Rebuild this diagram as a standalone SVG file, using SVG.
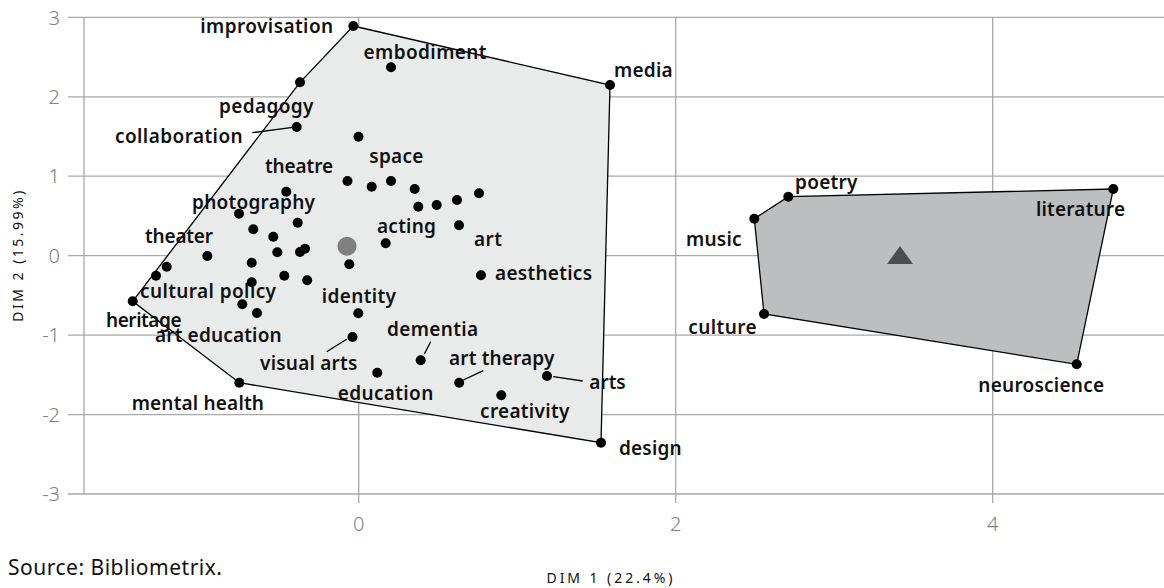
<svg xmlns="http://www.w3.org/2000/svg" width="1164" height="588" viewBox="0 0 1164 588">
<style>
.grid{stroke:#a8a8a8;stroke-width:1.3;fill:none}
.tick{font-family:"Noto Sans","Liberation Sans",sans-serif;font-size:20px;fill:#808080;font-weight:300}
.lbl{font-family:"Noto Sans","Liberation Sans",sans-serif;font-size:19px;font-weight:600;fill:#111;text-anchor:middle}
.pt{fill:#000}
.hull1{fill:#e9eaea;stroke:#000;stroke-width:1.3}
.hull2{fill:#bdbebf;stroke:#000;stroke-width:1.3}
.lead{stroke:#000;stroke-width:1.3;fill:none}
.axt{font-family:"Noto Sans","Liberation Sans",sans-serif;font-size:14px;fill:#111;letter-spacing:1px}
.src{font-family:"Noto Sans","Liberation Sans",sans-serif;font-size:21px;fill:#111}
</style>
<rect width="1164" height="588" fill="#fff"/>
<g id="grid">
<path class="grid" d="M68 17.3H1164M68 96.8H1164M68 176.2H1164M68 255.7H1164M68 335.1H1164M68 414.6H1164M68 494H1164"/>
<path class="grid" d="M84 17.3V494M358.7 17.3V503M675.7 17.3V503M992.7 17.3V503"/>
</g>
<g id="axis-labels">
<text class="tick" x="60" y="24.5" text-anchor="end">3</text>
<text class="tick" x="60" y="104" text-anchor="end">2</text>
<text class="tick" x="60" y="183.4" text-anchor="end">1</text>
<text class="tick" x="60" y="262.9" text-anchor="end">0</text>
<text class="tick" x="60" y="342.3" text-anchor="end">-1</text>
<text class="tick" x="60" y="421.8" text-anchor="end">-2</text>
<text class="tick" x="60" y="501.2" text-anchor="end">-3</text>
<text class="tick" x="358.7" y="530.5" text-anchor="middle">0</text>
<text class="tick" x="675.7" y="530.5" text-anchor="middle">2</text>
<text class="tick" x="992.7" y="530.5" text-anchor="middle">4</text>
<text class="axt" x="610" y="583" text-anchor="middle" textLength="127">DIM 1 (22.4%)</text>
<text class="axt" transform="translate(23 255.7) rotate(-90)" text-anchor="middle" textLength="132">DIM 2 (15.99%)</text>
<text class="src" x="8" y="575" textLength="214">Source: Bibliometrix.</text>
</g>
<g id="cluster1">
<polygon class="hull1" points="353.3,26 610,85 601,442.7 239.3,382.7 132.7,301.3 300,82.3"/>
</g>
<g id="cluster2">
<polygon class="hull2" points="788.3,196.7 1113.3,189 1076.7,364.3 764,314 754.3,218.7"/>
</g>
<g id="connectors">
<path class="lead" d="M252.3 132.7L292.7 127.3M326.7 351.7L346.7 339.3M430.7 341.7L424.3 354M463.3 380L483.3 370.7M553.3 376.7L582.7 381"/>
</g>
<g id="centroids">
<circle cx="347" cy="246.3" r="9.5" fill="#808080"/>
<polygon points="887,264 913,264 900,246" fill="#4d4d4d"/>
</g>
<g id="points">
<circle class="pt" cx="353.3" cy="26" r="5"/>
<circle class="pt" cx="300" cy="82.3" r="5"/>
<circle class="pt" cx="391" cy="67.3" r="5"/>
<circle class="pt" cx="610" cy="85" r="5"/>
<circle class="pt" cx="296.7" cy="127" r="5"/>
<circle class="pt" cx="358.5" cy="136.7" r="5"/>
<circle class="pt" cx="347.5" cy="181" r="5"/>
<circle class="pt" cx="371.7" cy="186.7" r="5"/>
<circle class="pt" cx="391" cy="181" r="5"/>
<circle class="pt" cx="414.7" cy="189" r="5"/>
<circle class="pt" cx="479" cy="193.3" r="5"/>
<circle class="pt" cx="457" cy="200" r="5"/>
<circle class="pt" cx="418.3" cy="206.7" r="5"/>
<circle class="pt" cx="436.7" cy="205" r="5"/>
<circle class="pt" cx="459" cy="225.3" r="5"/>
<circle class="pt" cx="385.7" cy="243.3" r="5"/>
<circle class="pt" cx="286.3" cy="191.8" r="5"/>
<circle class="pt" cx="239" cy="213.7" r="5"/>
<circle class="pt" cx="297.7" cy="222.7" r="5"/>
<circle class="pt" cx="253.3" cy="229.3" r="5"/>
<circle class="pt" cx="273.3" cy="236.7" r="5"/>
<circle class="pt" cx="277.3" cy="252.3" r="5"/>
<circle class="pt" cx="300" cy="252" r="5"/>
<circle class="pt" cx="305" cy="248.7" r="5"/>
<circle class="pt" cx="207.3" cy="256" r="5"/>
<circle class="pt" cx="251.7" cy="262.7" r="5"/>
<circle class="pt" cx="166.7" cy="266.7" r="5"/>
<circle class="pt" cx="156" cy="275.7" r="5"/>
<circle class="pt" cx="284.3" cy="275.7" r="5"/>
<circle class="pt" cx="307.2" cy="280.3" r="5"/>
<circle class="pt" cx="251.7" cy="282.3" r="5"/>
<circle class="pt" cx="349.3" cy="264.3" r="5"/>
<circle class="pt" cx="132.7" cy="301.3" r="5"/>
<circle class="pt" cx="242.3" cy="304.3" r="5"/>
<circle class="pt" cx="257" cy="313" r="5"/>
<circle class="pt" cx="358.3" cy="313.3" r="5"/>
<circle class="pt" cx="352.5" cy="337" r="5"/>
<circle class="pt" cx="481" cy="275.3" r="5"/>
<circle class="pt" cx="420.7" cy="360.2" r="5"/>
<circle class="pt" cx="377.3" cy="372.7" r="5"/>
<circle class="pt" cx="459.2" cy="382.7" r="5"/>
<circle class="pt" cx="547" cy="376" r="5"/>
<circle class="pt" cx="501.3" cy="395.3" r="5"/>
<circle class="pt" cx="601" cy="442.7" r="5"/>
<circle class="pt" cx="239.3" cy="382.7" r="5"/>
<circle class="pt" cx="788.3" cy="196.7" r="5"/>
<circle class="pt" cx="754.3" cy="218.7" r="5"/>
<circle class="pt" cx="764" cy="314" r="5"/>
<circle class="pt" cx="1076.7" cy="364.3" r="5"/>
<circle class="pt" cx="1113.3" cy="189" r="5"/>
</g>
<g id="labels">
<text class="lbl" x="266.7" y="33" textLength="133">improvisation</text>
<text class="lbl" x="425" y="58.5" textLength="123">embodiment</text>
<text class="lbl" x="643.3" y="76.5" textLength="58.7">media</text>
<text class="lbl" x="266.2" y="112.5" textLength="94.3">pedagogy</text>
<text class="lbl" x="178.8" y="142.5" textLength="127.7">collaboration</text>
<text class="lbl" x="299" y="173" textLength="68">theatre</text>
<text class="lbl" x="396.3" y="163.3" textLength="54">space</text>
<text class="lbl" x="253.5" y="209.3" textLength="123">photography</text>
<text class="lbl" x="179" y="243.3" textLength="68">theater</text>
<text class="lbl" x="406.5" y="233.3" textLength="59">acting</text>
<text class="lbl" x="488" y="246" textLength="28">art</text>
<text class="lbl" x="543.5" y="280" textLength="97">aesthetics</text>
<text class="lbl" x="208" y="297.7" textLength="136">cultural policy</text>
<text class="lbl" x="358.8" y="303.3" textLength="74.3">identity</text>
<text class="lbl" x="143.8" y="327.3" textLength="75.7">heritage</text>
<text class="lbl" x="218.3" y="342.3" textLength="126.7">art education</text>
<text class="lbl" x="432.5" y="336" textLength="91">dementia</text>
<text class="lbl" x="308.7" y="370" textLength="97.3">visual arts</text>
<text class="lbl" x="501.7" y="365" textLength="105.3">art therapy</text>
<text class="lbl" x="607.5" y="389.3" textLength="36.4">arts</text>
<text class="lbl" x="385.5" y="400" textLength="95.6">education</text>
<text class="lbl" x="197.8" y="410" textLength="132.3">mental health</text>
<text class="lbl" x="524.7" y="418.3" textLength="89.3">creativity</text>
<text class="lbl" x="650.3" y="455" textLength="62.7">design</text>
<text class="lbl" x="826.2" y="189.3" textLength="62.3">poetry</text>
<text class="lbl" x="713.8" y="246" textLength="55.7">music</text>
<text class="lbl" x="722.5" y="334.3" textLength="68.4">culture</text>
<text class="lbl" x="1041.2" y="392.3" textLength="125.7">neuroscience</text>
<text class="lbl" x="1080.5" y="215.7" textLength="89">literature</text>
</g>
</svg>
